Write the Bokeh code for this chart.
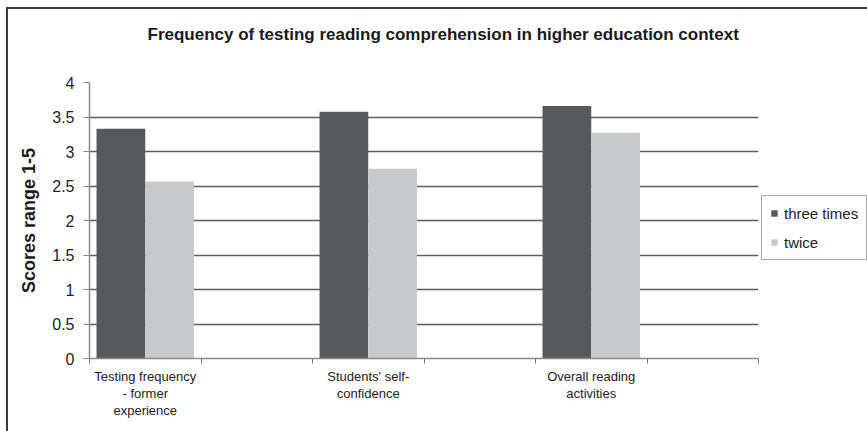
import numpy as np
from bokeh.plotting import figure
from bokeh.models import (ColumnDataSource, FixedTicker, NumeralTickFormatter, Legend, LegendItem,
                          Range1d, Title)
from bokeh.embed import file_html
from bokeh.resources import INLINE

categories = ["Testing frequency\n- former\nexperience", "Students' self-\nconfidence", "Overall reading\nactivities"]
series_names = ["three times", "twice"]
three_times = [3.33, 3.575, 3.66]
twice = [2.565, 2.75, 3.27]
colors = ["#58595b", "#c8c9cb"]
y_ticks = [0, 0.5, 1, 1.5, 2, 2.5, 3, 3.5, 4]
title_text = "Frequency of testing reading comprehension in higher education context"

FONT = "Liberation Sans"
n = len(categories)
slot = np.arange(n) * 2  # each category followed by an empty slot
bw = 0.437

p = figure(title=None, frame_width=669, frame_height=276, x_range=Range1d(0, 2 * n), y_range=Range1d(0, 4),
           output_backend="svg", toolbar_location=None,
           min_border_left=81, min_border_right=0, min_border_bottom=73, min_border_top=73)

src1 = ColumnDataSource(dict(x=slot + 0.063 + bw / 2, top=three_times))
src2 = ColumnDataSource(dict(x=slot + 0.063 + bw + bw / 2, top=twice))
r1 = p.vbar(x="x", top="top", width=bw, source=src1, fill_color=colors[0], line_color=None)
r2 = p.vbar(x="x", top="top", width=bw, source=src2, fill_color=colors[1], line_color=None)

# spacer between the frame and the title, then the title itself
p.add_layout(Title(text=" ", text_font=FONT, text_font_size="14px", standoff=16), "above")
p.add_layout(Title(text=title_text, align="left", offset=58, text_font=FONT, text_font_size="17px",
                   text_font_style="bold", text_color="#1a1a1a", standoff=10), "above")

# x axis
xa = p.xaxis[0]
xa.ticker = FixedTicker(ticks=list(slot + 0.5), minor_ticks=list(range(0, 2 * n + 1)))
xa.major_label_overrides = {float(s + 0.5): c for s, c in zip(slot, categories)}
xa.major_tick_in = 0
xa.major_tick_out = 0
xa.minor_tick_in = 0
xa.minor_tick_out = 5
xa.minor_tick_line_color = "#707070"
xa.axis_line_color = "#8a8a8a"
xa.axis_line_width = 1.5
xa.major_label_text_font = FONT
xa.major_label_text_font_size = "13px"
xa.major_label_text_color = "#222222"
xa.major_label_text_line_height = 1.15
xa.major_label_standoff = 5

# y axis
ya = p.yaxis[0]
ya.ticker = FixedTicker(ticks=y_ticks, minor_ticks=[])
ya.formatter = NumeralTickFormatter(format="0.[0]")
ya.axis_label = "Scores range 1-5"
ya.axis_label_text_font = FONT
ya.axis_label_text_font_size = "18px"
ya.axis_label_text_font_style = "bold"
ya.axis_label_text_color = "#1a1a1a"
ya.axis_label_standoff = 10
ya.major_label_text_font = FONT
ya.major_label_text_font_size = "16px"
ya.major_label_text_color = "#222222"
ya.major_tick_in = 0
ya.major_tick_out = 6
ya.major_tick_line_color = "#8a8a8a"
ya.axis_line_color = "#8a8a8a"
ya.axis_line_width = 1.5
ya.major_label_standoff = 9

p.xgrid.visible = False
p.ygrid.ticker = FixedTicker(ticks=y_ticks[1:])
p.ygrid.grid_line_color = "#5e5e5e"
p.ygrid.grid_line_width = 1.3

p.outline_line_color = None

legend = Legend(items=[LegendItem(label=series_names[0], renderers=[r1]),
                       LegendItem(label=series_names[1], renderers=[r2])],
                location=(3, 98), margin=0, padding=8, spacing=11,
                label_text_font=FONT, label_text_font_size="15px", label_text_color="#222222",
                glyph_width=8, glyph_height=8, label_height=18, label_standoff=6,
                border_line_color="#555555", border_line_width=1, background_fill_alpha=1)
p.add_layout(legend, "right")

p.styles = {"border-top": "2px solid #3c3c3c", "border-left": "2px solid #3c3c3c",
            "margin-left": "6px", "margin-top": "7px"}

open("out.html", "w").write(file_html(p, INLINE))
